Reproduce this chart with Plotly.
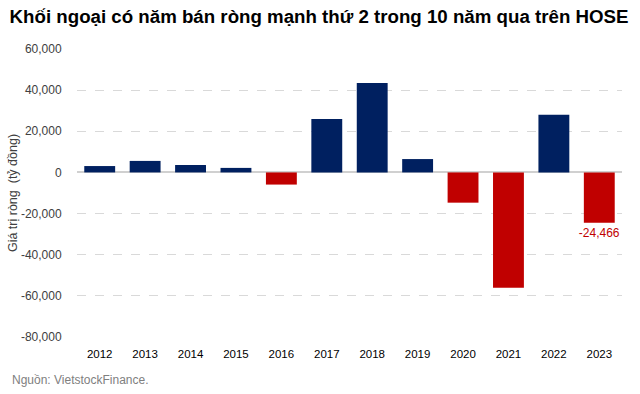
import plotly.graph_objects as go

years = ["2012", "2013", "2014", "2015", "2016", "2017", "2018", "2019", "2020", "2021", "2022", "2023"]
values = [3100, 5600, 3600, 2200, -5900, 26000, 43500, 6500, -14700, -56000, 28000, -24466]
tick_vals = [60000, 40000, 20000, 0, -20000, -40000, -60000, -80000]
tick_text = ["60,000", "40,000", "20,000", "0", "-20,000", "-40,000", "-60,000", "-80,000"]

colors = ["#002060" if v >= 0 else "#C00000" for v in values]
text = [""] * (len(values) - 1) + ["{:,}".format(values[-1])]

fig = go.Figure()
fig.add_trace(go.Bar(
    x=years, y=values, marker_color=colors, marker_line_width=0,
    text=text, textposition="outside", cliponaxis=False, constraintext="none",
    textfont=dict(color="#C00000", size=12, family="Liberation Sans, Arial"),
))

fig.update_layout(
    width=640, height=394,
    margin=dict(l=77, r=18, t=49, b=57),
    paper_bgcolor="white", plot_bgcolor="white",
    bargap=0.32,
    showlegend=False,
    font=dict(family="Liberation Sans, Arial", color="#404040"),
    title=dict(text="<b>Khối ngoại có năm bán ròng mạnh thứ 2 trong 10 năm qua trên HOSE</b>",
               x=0.015, xanchor="left", y=0.957, yanchor="middle",
               font=dict(size=18.7, color="black", family="Liberation Sans, Arial")),
    annotations=[dict(text="Nguồn: VietstockFinance.", xref="paper", yref="paper",
                      x=-0.123, y=-0.15, xanchor="left", yanchor="middle", showarrow=False,
                      font=dict(size=12, color="#808080"))],
)
fig.update_xaxes(showline=False, ticks="outside", ticklen=6, tickcolor="white",
                 tickfont=dict(size=11.5, color="black"))
fig.update_yaxes(range=[-80000, 60000], tickvals=tick_vals, ticktext=tick_text,
                 showgrid=True, gridcolor="#D9D9D9", griddash="dash", gridwidth=1,
                 zeroline=True, zerolinecolor="#D0D0D0", zerolinewidth=1.5,
                 tickfont=dict(size=12, color="#404040"), ticklen=12, ticks="outside", tickcolor="white",
                 title=dict(text="Giá trị ròng  (tỷ đồng)", font=dict(size=12.5, color="#404040"), standoff=0))

fig.write_html("out.html", post_script="document.body.style.margin='0';",
               config={"displayModeBar": False})
